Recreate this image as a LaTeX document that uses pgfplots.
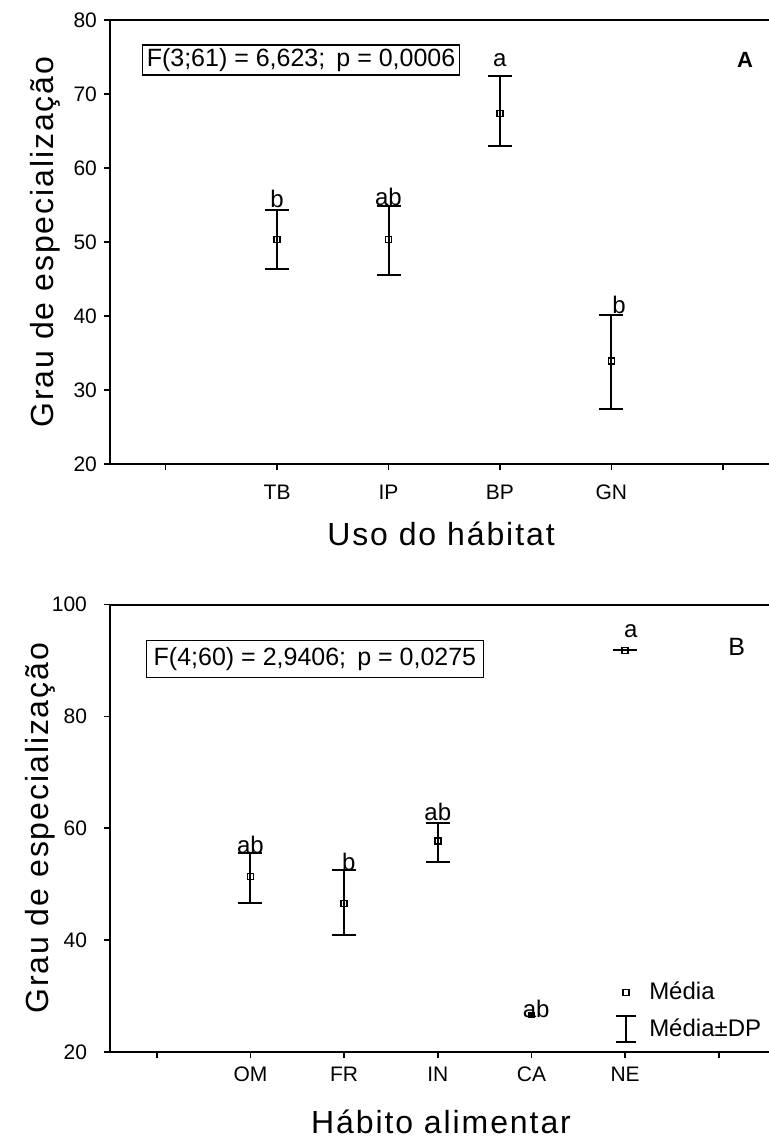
\documentclass[border=0pt]{standalone}
\usepackage{fontspec}
\setmainfont{Liberation Sans}
\newfontfamily\spacedx[LetterSpace=6]{Liberation Sans}
\newfontfamily\spacedy[LetterSpace=6]{Liberation Sans}
\usepackage{pgfplots}
\pgfplotsset{compat=1.18}
\tikzset{lett/.style={font=\fontsize{12}{14}\selectfont, anchor=base, inner sep=0pt}}
\begin{document}
\begin{tikzpicture}
\path[use as bounding box] (0,0) rectangle (384pt,-571pt);
\pgfplotsset{
  common/.style={
    scale only axis, width=331pt, anchor=north west,
    xmin=-0.5,
    axis line style={line width=1pt},
    tick align=outside, xtick pos=bottom, ytick pos=left,
    major tick length=3pt,
    tick style={line width=0.8pt, black},
    /pgf/number format/assume math mode=true,
    ticklabel style={font=\fontsize{10.5}{12}\selectfont},
    every axis x label/.style={at={(axis description cs:0.5,0)}, anchor=base, yshift=-40.5pt, font=\spacedx\fontsize{16}{18}\selectfont},
    clip=false,
  },
  ebar/.style={
    only marks, mark=square, mark size=1.5pt,
    mark options={fill=white, line width=0.7pt, black},
    error bars/y dir=both, error bars/y explicit,
    error bars/error bar style={line width=1pt, black},
    error bars/error mark options={rotate=90, mark size=6pt, line width=1pt, black},
  },
}
% ---------------- Panel A
\begin{axis}[common,
  at={(55pt,-10pt)}, height=222pt,
  xmax=5.4425, ymin=20, ymax=80,
  xtick={0,...,5}, xticklabels={,TB,IP,BP,GN,},
  ytick={20,30,...,80},
  xticklabel style={yshift=-4pt},
  xlabel={Uso do hábitat},
  ylabel={Grau de especialização},
  every axis y label/.style={at={([xshift=-28pt]axis description cs:0,0.5)}, rotate=90, anchor=base, font=\spacedy\fontsize{16}{18}\selectfont},
]
\addplot+[ebar] coordinates {
  (1,50.3) += (0,4.0) -= (0,3.9)
  (2,50.3) += (0,4.5) -= (0,4.7)
  (3,67.4) += (0,5.0) -= (0,4.4)
  (4,33.9) += (0,6.3) -= (0,6.4)
};
\node[lett] at (axis cs:1,54.6) {b};
\node[lett] at (axis cs:2,55.0) {ab};
\node[lett] at (axis cs:3,73.7) {a};
\node[lett] at (axis cs:4.07,40.4) {b};
\node[draw, line width=0.9pt, minimum width=158.5pt, minimum height=15pt, inner sep=1pt,
      font=\fontsize{12.5}{14}\selectfont] at (axis cs:1.215,74.6) {F(3;61) = 6,623;\, p = 0,0006};
\node[font=\fontsize{11}{13}\selectfont\bfseries] at (axis cs:5.2,74.6) {A};
\end{axis}
% ---------------- Panel B
\begin{axis}[common,
  at={(55pt,-302.25pt)}, height=223.75pt,
  xmax=6.568, ymin=20, ymax=100,
  xtick={0,...,6}, xticklabels={,OM,FR,IN,CA,NE,},
  ytick={20,40,...,100},
  xticklabel style={yshift=-1pt},
  yticklabel style={xshift=-5pt},
  xlabel={Hábito alimentar},
  ylabel={Grau de especialização},
  every axis y label/.style={at={([xshift=-30.5pt]axis description cs:0,0.5)}, rotate=90, anchor=base, font=\spacedy\fontsize{16}{18}\selectfont},
  legend style={at={(axis cs:4.885,33.3)}, anchor=north west, draw=none, fill=none,
    font=\fontsize{12}{14}\selectfont, row sep=4pt, column sep=4pt, inner sep=0pt},
  legend cell align=left,
]
\addlegendimage{only marks, mark=square, mark size=1.5pt, mark options={line width=0.7pt, black}}
\addlegendentry{Média}
\addlegendimage{legend image code/.code={
  \draw[line width=1pt, black] (0.3cm,-6.5pt) -- (0.3cm,6.5pt)
     (0.12cm,-6.5pt) -- (0.48cm,-6.5pt) (0.12cm,6.5pt) -- (0.48cm,6.5pt);}}
\addlegendentry{Média±DP}
\addplot+[forget plot, ebar] coordinates {
  (1,51.4) += (0,4.2) -= (0,4.7)
  (2,46.5) += (0,6.0) -= (0,5.6)
  (3,57.7) += (0,3.3) -= (0,3.8)
  (5,91.8) += (0,0) -= (0,0)
};
\addplot[only marks, mark=square*, mark size=1.3pt, black, forget plot] coordinates {(4,26.6)};
\node[lett] at (axis cs:1,55.5) {ab};
\node[lett] at (axis cs:2.05,52.4) {b};
\node[lett] at (axis cs:3,61.4) {ab};
\node[lett] at (axis cs:4.05,26.2) {ab};
\node[lett] at (axis cs:5.06,94.1) {a};
\node[draw, line width=0.9pt, minimum width=168.5pt, minimum height=18.5pt, inner sep=1pt,
      font=\fontsize{12.5}{14}\selectfont] at (axis cs:1.688,90.25) {F(4;60) = 2,9406;\, p = 0,0275};
\node[font=\fontsize{12.5}{14}\selectfont] at (axis cs:6.19,92.4) {B};
\end{axis}
\end{tikzpicture}
\end{document}
